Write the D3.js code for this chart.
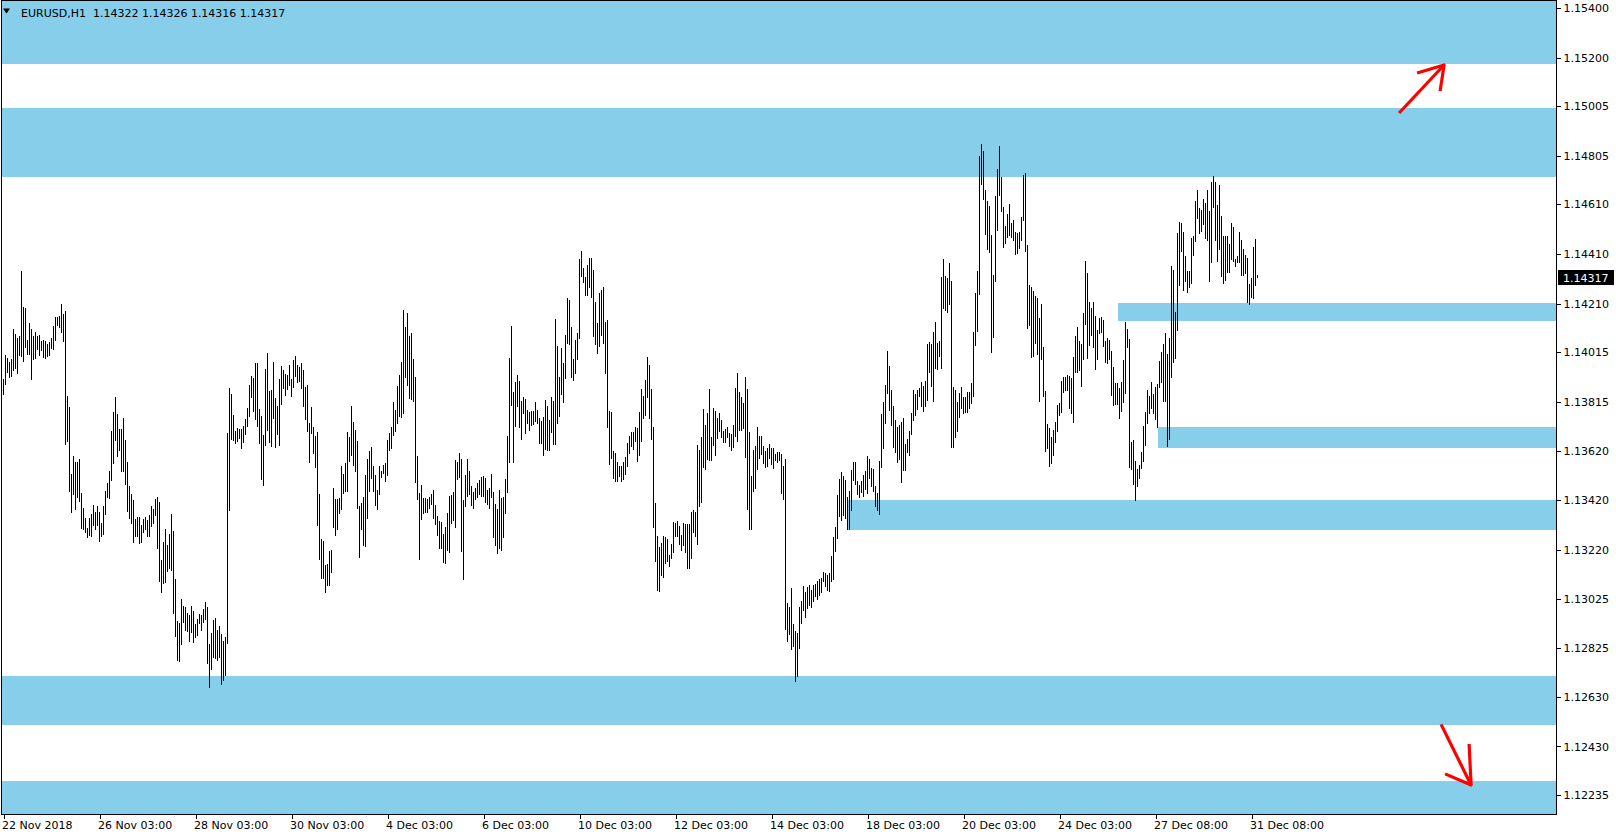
<!DOCTYPE html>
<html><head><meta charset="utf-8">
<script src="https://cdn.jsdelivr.net/npm/d3@7"></script>
<style>html,body{margin:0;padding:0;background:#fff;overflow:hidden}</style>
</head><body>
<svg id="c" width="1616" height="838"></svg>
<script>
const symbolName = "EURUSD,H1";
const lastOHLC = [1.14322, 1.14326, 1.14316, 1.14317];
const high = [
1.13908,1.14005,1.13994,1.13974,1.13988,1.14109,1.14089,1.14074,1.14081,1.14340,1.14198,1.14193,1.14065,1.14133,1.14109,1.14081,1.14097,1.14081,1.14085,1.14062,
1.14065,1.14061,1.14050,1.14057,1.14074,1.14121,1.14157,1.14157,1.14161,1.14210,1.14167,1.14181,1.13840,1.13796,1.13526,1.13599,1.13574,1.13572,1.13586,1.13450,
1.13389,1.13347,1.13310,1.13347,1.13365,1.13400,1.13373,1.13397,1.13373,1.13330,1.13397,1.13459,1.13491,1.13539,1.13700,1.13773,1.13837,1.13766,1.13707,1.13707,
1.13751,1.13663,1.13572,1.13478,1.13446,1.13423,1.13344,1.13351,1.13353,1.13321,1.13343,1.13351,1.13339,1.13359,1.13397,1.13384,1.13427,1.13435,1.13414,1.13178,
1.13254,1.13306,1.13239,1.13286,1.13363,1.13298,1.13105,1.12935,1.12926,1.13025,1.12993,1.12989,1.12967,1.12957,1.12993,1.12973,1.12923,1.12943,1.12961,1.12957,
1.12981,1.13010,1.12990,1.12844,1.12888,1.12937,1.12945,1.12900,1.12915,1.12883,1.12856,1.12872,1.13692,1.13872,1.13849,1.13761,1.13699,1.13711,1.13706,1.13707,
1.13720,1.13747,1.13791,1.13885,1.13921,1.13913,1.13972,1.13972,1.13787,1.13757,1.13684,1.13946,1.14014,1.13860,1.13865,1.13974,1.13833,1.13801,1.13908,1.13958,
1.13943,1.13928,1.13924,1.13962,1.13909,1.13983,1.14001,1.13962,1.13954,1.13970,1.13942,1.13875,1.13884,1.13729,1.13793,1.13716,1.13680,1.13694,1.13446,1.13265,
1.13258,1.13158,1.13162,1.13217,1.13221,1.13471,1.13426,1.13424,1.13430,1.13558,1.13527,1.13568,1.13696,1.13676,1.13797,1.13736,1.13704,1.13660,1.13395,1.13409,
1.13435,1.13523,1.13585,1.13620,1.13635,1.13558,1.13523,1.13460,1.13556,1.13539,1.13560,1.13570,1.13664,1.13692,1.13715,1.13816,1.13781,1.13881,1.13925,1.13976,
1.14185,1.14118,1.14171,1.14081,1.14093,1.13986,1.13917,1.13599,1.13451,1.13482,1.13431,1.13430,1.13426,1.13434,1.13446,1.13462,1.13400,1.13357,1.13337,1.13333,
1.13285,1.13313,1.13369,1.13439,1.13442,1.13454,1.13580,1.13574,1.13611,1.13586,1.13423,1.13522,1.13584,1.13539,1.13478,1.13454,1.13471,1.13491,1.13502,1.13515,
1.13518,1.13511,1.13463,1.13471,1.13527,1.13455,1.13405,1.13383,1.13463,1.13430,1.13435,1.13507,1.13680,1.13994,1.14121,1.13856,1.13896,1.13924,1.13900,1.13821,
1.13837,1.13829,1.13783,1.13775,1.13777,1.13777,1.13816,1.13783,1.13749,1.13740,1.13753,1.13822,1.13797,1.13743,1.13836,1.13820,1.14149,1.14041,1.13916,1.14033,
1.13972,1.14085,1.14234,1.14226,1.14117,1.13986,1.14065,1.14094,1.14390,1.14423,1.14354,1.14319,1.14366,1.14394,1.14394,1.14346,1.14218,1.14133,1.14255,1.14266,
1.14278,1.14137,1.14145,1.13779,1.13775,1.13620,1.13611,1.13572,1.13556,1.13558,1.13572,1.13592,1.13652,1.13680,1.13695,1.13696,1.13715,1.13711,1.13773,1.13868,
1.13841,1.13904,1.13998,1.13964,1.13869,1.13715,1.13409,1.13277,1.13234,1.13249,1.13277,1.13273,1.13265,1.13200,1.13245,1.13333,1.13329,1.13337,1.13317,1.13282,
1.13329,1.13326,1.13325,1.13325,1.13373,1.13381,1.13373,1.13643,1.13623,1.13675,1.13787,1.13723,1.13769,1.13868,1.13675,1.13791,1.13777,1.13751,1.13771,1.13743,
1.13699,1.13707,1.13715,1.13691,1.13687,1.13723,1.13873,1.13932,1.13856,1.13836,1.13812,1.13916,1.13868,1.13695,1.13518,1.13623,1.13639,1.13715,1.13679,1.13679,
1.13639,1.13619,1.13631,1.13647,1.13631,1.13631,1.13607,1.13615,1.13615,1.13607,1.13558,1.13586,1.13005,1.12989,1.13068,1.12923,1.12895,1.12887,1.12989,1.13013,
1.13076,1.13052,1.13072,1.13080,1.13060,1.13080,1.13084,1.13096,1.13104,1.13108,1.13132,1.13128,1.13120,1.13128,1.13196,1.13273,1.13313,1.13442,1.13506,1.13534,
1.13518,1.13502,1.13434,1.13458,1.13542,1.13574,1.13574,1.13498,1.13482,1.13498,1.13522,1.13538,1.13599,1.13586,1.13550,1.13546,1.13478,1.13450,1.13578,1.13767,
1.13816,1.13884,1.14021,1.13960,1.13864,1.13800,1.13743,1.13716,1.13723,1.13735,1.13751,1.13647,1.13667,1.13699,1.13771,1.13864,1.13848,1.13864,1.13872,1.13896,
1.13880,1.13900,1.14049,1.14057,1.14049,1.14097,1.14137,1.14053,1.14061,1.14318,1.14390,1.14322,1.14314,1.14373,1.14302,1.13876,1.13864,1.13816,1.13852,1.13876,
1.13836,1.13836,1.13856,1.13856,1.13892,1.14097,1.14254,1.14342,1.14805,1.14853,1.14825,1.14668,1.14624,1.14604,1.14487,1.14326,1.14644,1.14752,1.14845,1.14720,
1.14600,1.14523,1.14571,1.14612,1.14535,1.14545,1.14499,1.14495,1.14499,1.14559,1.14728,1.14736,1.14447,1.14287,1.14279,1.14262,1.14242,1.14234,1.14151,1.14210,
1.14037,1.13860,1.13727,1.13711,1.13675,1.13703,1.13735,1.13804,1.13812,1.13900,1.13916,1.13916,1.13924,1.13920,1.13912,1.13997,1.14081,1.14117,1.14061,1.14050,
1.14173,1.14382,1.14334,1.14218,1.14193,1.14218,1.14161,1.14105,1.14153,1.14157,1.14145,1.14061,1.14073,1.14065,1.14021,1.13956,1.13892,1.13892,1.13872,1.13896,
1.13984,1.14137,1.14109,1.14069,1.13655,1.13663,1.13578,1.13546,1.13562,1.13615,1.13719,1.13775,1.13864,1.13840,1.13896,1.13848,1.13876,1.13888,1.13980,1.14017,
1.14049,1.14093,1.14009,1.14073,1.14362,1.14346,1.14177,1.14495,1.14539,1.14535,1.14499,1.14404,1.14342,1.14342,1.14475,1.14484,1.14624,1.14668,1.14595,1.14587,
1.14632,1.14616,1.14668,1.14583,1.14700,1.14724,1.14700,1.14608,1.14688,1.14563,1.14483,1.14484,1.14483,1.14451,1.14535,1.14519,1.14392,1.14403,1.14499,1.14467,
1.14431,1.14407,1.14396,1.14291,1.14315,1.14439,1.14471,1.14326];
const low = [
1.13846,1.13889,1.13937,1.13915,1.13921,1.13944,1.13950,1.13933,1.14005,1.14002,1.13978,1.14038,1.14010,1.14007,1.13907,1.13986,1.13990,1.14029,1.14006,1.14026,
1.13997,1.13991,1.14001,1.14006,1.14033,1.14030,1.14066,1.14126,1.14118,1.14096,1.14062,1.13645,1.13657,1.13459,1.13371,1.13447,1.13384,1.13435,1.13419,1.13310,
1.13306,1.13293,1.13272,1.13281,1.13275,1.13321,1.13304,1.13320,1.13258,1.13275,1.13284,1.13364,1.13432,1.13430,1.13501,1.13569,1.13664,1.13596,1.13624,1.13539,
1.13539,1.13487,1.13375,1.13347,1.13329,1.13254,1.13278,1.13278,1.13247,1.13254,1.13292,1.13305,1.13278,1.13278,1.13317,1.13330,1.13359,1.13227,1.13095,1.13050,
1.13089,1.13091,1.13135,1.13147,1.13140,1.12966,1.12876,1.12777,1.12772,1.12841,1.12930,1.12899,1.12894,1.12853,1.12892,1.12852,1.12872,1.12878,1.12925,1.12900,
1.12929,1.12942,1.12765,1.12669,1.12741,1.12788,1.12785,1.12778,1.12789,1.12682,1.12698,1.12717,1.12845,1.13379,1.13666,1.13664,1.13652,1.13657,1.13670,1.13629,
1.13653,1.13686,1.13720,1.13758,1.13834,1.13778,1.13745,1.13718,1.13649,1.13505,1.13483,1.13641,1.13702,1.13653,1.13640,1.13750,1.13633,1.13686,1.13641,1.13809,
1.13871,1.13842,1.13867,1.13884,1.13841,1.13875,1.13921,1.13897,1.13899,1.13873,1.13797,1.13746,1.13698,1.13573,1.13690,1.13612,1.13553,1.13320,1.13183,1.13107,
1.13107,1.13050,1.13080,1.13079,1.13131,1.13312,1.13280,1.13304,1.13368,1.13384,1.13448,1.13456,1.13458,1.13577,1.13600,1.13561,1.13537,1.13388,1.13191,1.13305,
1.13239,1.13235,1.13348,1.13456,1.13511,1.13456,1.13400,1.13384,1.13444,1.13515,1.13531,1.13497,1.13521,1.13621,1.13632,1.13682,1.13700,1.13730,1.13757,1.13753,
1.13770,1.13917,1.13883,1.13830,1.13829,1.13818,1.13495,1.13424,1.13183,1.13344,1.13368,1.13371,1.13371,1.13387,1.13404,1.13347,1.13324,1.13282,1.13227,1.13227,
1.13172,1.13167,1.13221,1.13211,1.13328,1.13339,1.13314,1.13507,1.13514,1.13218,1.13103,1.13395,1.13436,1.13444,1.13399,1.13388,1.13424,1.13432,1.13447,1.13439,
1.13439,1.13415,1.13405,1.13387,1.13435,1.13274,1.13239,1.13207,1.13227,1.13222,1.13274,1.13367,1.13455,1.13572,1.13805,1.13572,1.13720,1.13801,1.13716,1.13668,
1.13770,1.13690,1.13732,1.13703,1.13723,1.13726,1.13739,1.13732,1.13652,1.13649,1.13600,1.13627,1.13624,1.13624,1.13694,1.13645,1.13648,1.13732,1.13757,1.13846,
1.13817,1.13913,1.14054,1.14050,1.13917,1.13905,1.13933,1.13986,1.14072,1.14323,1.14299,1.14244,1.14244,1.14277,1.14236,1.14082,1.14050,1.14014,1.14042,1.14086,
1.14054,1.13930,1.13716,1.13564,1.13590,1.13510,1.13499,1.13499,1.13519,1.13499,1.13505,1.13527,1.13556,1.13612,1.13640,1.13628,1.13660,1.13576,1.13600,1.13660,
1.13749,1.13761,1.13834,1.13749,1.13667,1.13314,1.13174,1.13061,1.13057,1.13121,1.13113,1.13166,1.13174,1.13154,1.13187,1.13210,1.13278,1.13278,1.13246,1.13222,
1.13242,1.13214,1.13146,1.13148,1.13188,1.13294,1.13278,1.13246,1.13395,1.13415,1.13554,1.13544,1.13584,1.13580,1.13580,1.13643,1.13600,1.13671,1.13699,1.13674,
1.13655,1.13655,1.13676,1.13640,1.13624,1.13636,1.13680,1.13660,1.13703,1.13703,1.13712,1.13594,1.13383,1.13306,1.13306,1.13459,1.13471,1.13544,1.13588,1.13608,
1.13568,1.13552,1.13556,1.13588,1.13564,1.13548,1.13580,1.13572,1.13582,1.13451,1.13427,1.12904,1.12856,1.12884,1.12820,1.12836,1.12695,1.12715,1.12828,1.12925,
1.12977,1.12949,1.12985,1.13000,1.12989,1.13017,1.13037,1.13025,1.13041,1.13053,1.13097,1.13077,1.13060,1.13057,1.13097,1.13105,1.13218,1.13270,1.13355,1.13339,
1.13360,1.13347,1.13305,1.13305,1.13379,1.13503,1.13487,1.13447,1.13435,1.13455,1.13439,1.13467,1.13451,1.13511,1.13479,1.13459,1.13395,1.13379,1.13363,1.13552,
1.13632,1.13732,1.13850,1.13781,1.13722,1.13636,1.13616,1.13572,1.13585,1.13495,1.13542,1.13542,1.13613,1.13600,1.13686,1.13742,1.13761,1.13785,1.13838,1.13801,
1.13777,1.13801,1.13825,1.13937,1.13881,1.13821,1.13950,1.13947,1.14002,1.13950,1.14195,1.14185,1.14175,1.14210,1.13636,1.13636,1.13676,1.13700,1.13753,1.13789,
1.13769,1.13775,1.13773,1.13789,1.13813,1.13841,1.14046,1.14102,1.14248,1.14693,1.14633,1.14492,1.14432,1.14420,1.14018,1.14078,1.14303,1.14508,1.14646,1.14585,
1.14440,1.14456,1.14480,1.14488,1.14480,1.14468,1.14412,1.14416,1.14436,1.14468,1.14545,1.14424,1.14114,1.14125,1.13998,1.13999,1.14051,1.14010,1.13821,1.13986,
1.13841,1.13620,1.13632,1.13556,1.13568,1.13600,1.13656,1.13700,1.13762,1.13774,1.13854,1.13862,1.13862,1.13789,1.13769,1.13736,1.13936,1.13936,1.13944,1.13881,
1.13988,1.14130,1.13990,1.14046,1.14086,1.14037,1.13946,1.13986,1.14094,1.14097,1.14042,1.13974,1.13970,1.13987,1.13845,1.13805,1.13809,1.13809,1.13749,1.13778,
1.13817,1.13850,1.14038,1.13552,1.13544,1.13487,1.13423,1.13479,1.13511,1.13548,1.13576,1.13644,1.13729,1.13769,1.13790,1.13769,1.13745,1.13714,1.13877,1.13897,
1.13821,1.13821,1.13640,1.13668,1.13917,1.13974,1.13990,1.14106,1.14287,1.14424,1.14267,1.14303,1.14259,1.14279,1.14295,1.14408,1.14464,1.14553,1.14496,1.14504,
1.14530,1.14476,1.14468,1.14303,1.14376,1.14601,1.14468,1.14380,1.14432,1.14323,1.14295,1.14307,1.14336,1.14336,1.14392,1.14380,1.14360,1.14376,1.14376,1.14327,
1.14327,1.14333,1.14219,1.14211,1.14239,1.14235,1.14287,1.14316];

const xLabels = ["22 Nov 2018","26 Nov 03:00","28 Nov 03:00","30 Nov 03:00","4 Dec 03:00","6 Dec 03:00","10 Dec 03:00","12 Dec 03:00","14 Dec 03:00","18 Dec 03:00","20 Dec 03:00","24 Dec 03:00","27 Dec 08:00","31 Dec 08:00"];
const xLabelBars = [0,48,96,144,192,240,288,336,384,432,480,528,576,624];
const yTicks = [1.15400,1.15200,1.15005,1.14805,1.14610,1.14410,1.14210,1.14015,1.13815,1.13620,1.13420,1.13220,1.13025,1.12825,1.12630,1.12430,1.12235];

// zones (support / resistance rectangles)
const zoneTop    = [1.1550, 1.14997, 1.14212, 1.13716, 1.13422, 1.12713, 1.12291];
const zoneBottom = [1.15175, 1.14720, 1.14141, 1.13632, 1.13299, 1.12516, 1.1210];
const zoneStart  = [-2, -2, 557, 577, 422, -2, -2];

// hand-drawn arrows, points as [bar, price]
const arrowUp   = [[[697.8,1.14977],[720.3,1.15170]],[[706.8,1.15138],[720.3,1.15170],[718.3,1.15065]]];
const arrowDown = [[[718.8,1.12519],[733.8,1.12275]],[[732.8,1.12440],[733.8,1.12275],[720.8,1.12320]]];

const W = 1616, H = 838;
const plotL = 1, plotR = 1556, plotT = 0, plotB = 814;
const FONT = "DejaVu Sans";

const svg = d3.select("#c");
const x = d3.scaleLinear().domain([0, 627]).range([3.5, 1257.5]);
const y = d3.scaleLinear().domain([1.12235, 1.15400]).range([795, 7.8]);

svg.append("defs").append("clipPath").attr("id","pc")
  .append("rect").attr("x",plotL).attr("y",plotT).attr("width",plotR-plotL).attr("height",plotB-plotT);

const plot = svg.append("g").attr("clip-path","url(#pc)");

// zones
plot.selectAll("rect.zone").data(zoneTop).join("rect")
  .attr("class","zone")
  .attr("x",(d,i)=>Math.round(x(zoneStart[i])))
  .attr("y",d=>Math.round(y(d)))
  .attr("width",(d,i)=>plotR - Math.round(x(zoneStart[i])))
  .attr("height",(d,i)=>Math.round(y(zoneBottom[i])) - Math.round(y(d)))
  .attr("fill","#87CEEB");

// bars (high-low)
plot.selectAll("rect.bar").data(high).join("rect")
  .attr("class","bar")
  .attr("x",(d,i)=>x(i)-0.5)
  .attr("y",d=>Math.round(y(d)))
  .attr("width",1)
  .attr("height",(d,i)=>Math.max(1, Math.round(y(low[i])) - Math.round(y(d)) + 1))
  .attr("fill","#000")
  .attr("shape-rendering","crispEdges");

// arrows
const line = d3.line().x(d=>x(d[0])).y(d=>y(d[1]));
[arrowUp, arrowDown].forEach(a=>{
  a.forEach(seg=>{
    plot.append("path").attr("d",line(seg)).attr("fill","none")
      .attr("stroke","#FF0000").attr("stroke-width",3.2)
      .attr("stroke-linejoin","round").attr("stroke-linecap","butt");
  });
});

// frame
svg.append("rect").attr("x",plotL+0.5).attr("y",plotT+0.5)
  .attr("width",plotR-plotL).attr("height",plotB-plotT)
  .attr("fill","none").attr("stroke","#000").attr("stroke-width",1)
  .attr("shape-rendering","crispEdges");

// y axis
const yAxis = svg.append("g").attr("transform",`translate(${plotR+0.5},0)`)
  .call(d3.axisRight(y).tickValues(yTicks).tickFormat(d3.format(".5f")).tickSize(4).tickPadding(3));
yAxis.select(".domain").remove();
yAxis.selectAll("text").attr("font-family",FONT).attr("font-size",11).attr("fill","#000");
yAxis.selectAll("line").attr("stroke","#000").attr("shape-rendering","crispEdges");

// x axis
const xAxis = svg.append("g").attr("transform",`translate(0,${plotB+0.5})`)
  .call(d3.axisBottom(x).tickValues(xLabelBars).tickFormat((d,i)=>xLabels[i]).tickSize(4).tickPadding(3));
xAxis.select(".domain").remove();
xAxis.selectAll("text").attr("font-family",FONT).attr("font-size",11).attr("fill","#000")
  .attr("text-anchor","start").attr("dx","-2");
xAxis.selectAll("line").attr("stroke","#000").attr("shape-rendering","crispEdges");

// current price label
const lastY = y(lastOHLC[3]);
svg.append("rect").attr("x",plotR+2).attr("y",Math.round(lastY)-7).attr("width",56).attr("height",15).attr("fill","#000");
svg.append("text").attr("x",plotR+7).attr("y",Math.round(lastY)+4.5).text(d3.format(".5f")(lastOHLC[3]))
  .attr("font-family",FONT).attr("font-size",11).attr("fill","#fff");

// title
svg.append("path").attr("d","M3,8.5 L10,8.5 L6.5,13.5 Z").attr("fill","#000");
svg.append("text").attr("x",21).attr("y",17).attr("font-family",FONT).attr("font-size",11).attr("fill","#000")
  .style("white-space","pre")
  .text(symbolName + "  " + lastOHLC.map(d3.format(".5f")).join(" "));
</script>
</body></html>
